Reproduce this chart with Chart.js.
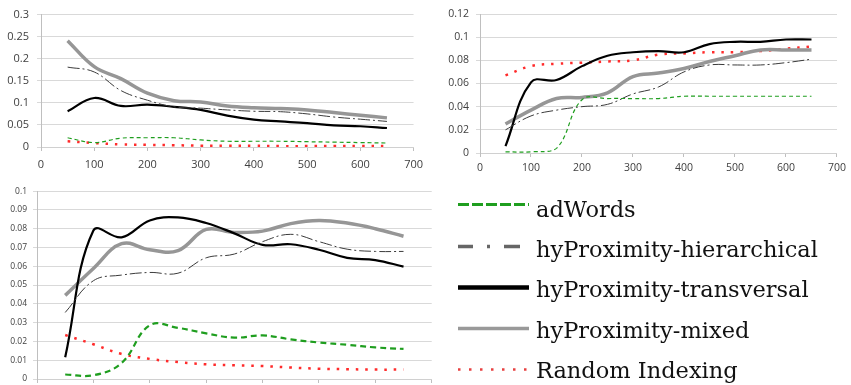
<!DOCTYPE html>
<html>
<head>
<meta charset="utf-8">
<script src="https://cdn.jsdelivr.net/npm/chart.js@4.4.1/dist/chart.umd.min.js"></script>
<style>
html,body{margin:0;padding:0;background:#fff;width:851px;height:385px;overflow:hidden;position:relative;}
canvas{position:absolute;}
#legend{position:absolute;left:430px;top:180px;}
</style>
</head>
<body>
<canvas id="c1" width="430" height="180" style="left:0;top:0;width:430px;height:180px"></canvas>
<canvas id="c2" width="421" height="190" style="left:430px;top:0;width:421px;height:190px"></canvas>
<canvas id="c3" width="445" height="240" style="left:0;top:180px;width:445px;height:240px"></canvas>
<svg id="legend" width="421" height="205" xmlns="http://www.w3.org/2000/svg"></svg>
<script>
// ---- data ----
const xValues = [50,100,150,200,250,300,350,400,450,500,550,600,650];
const seriesNames = ["adWords","hyProximity-hierarchical","hyProximity-transversal","hyProximity-mixed","Random Indexing"];
const xTicks = [0,100,200,300,400,500,600,700];

// top-left panel
const c1AdWords = [0.021,0.010,0.020,0.021,0.021,0.016,0.013,0.013,0.013,0.012,0.011,0.010,0.009];
const c1Hier    = [0.181,0.170,0.128,0.106,0.091,0.088,0.084,0.081,0.080,0.075,0.068,0.063,0.058];
const c1Trans   = [0.081,0.111,0.093,0.096,0.091,0.084,0.071,0.062,0.058,0.054,0.049,0.047,0.043];
const c1Mixed   = [0.241,0.182,0.155,0.122,0.105,0.102,0.093,0.089,0.087,0.084,0.078,0.072,0.066];
const c1Random  = [0.013,0.009,0.006,0.005,0.004,0.003,0.003,0.003,0.002,0.002,0.002,0.002,0.002];

// top-right panel
const c2AdWords = [0.001,0.001,0.004,0.046,0.047,0.047,0.047,0.049,0.049,0.049,0.049,0.049,0.049];
const c2Hier    = [0.020,0.032,0.037,0.040,0.042,0.051,0.057,0.070,0.076,0.076,0.076,0.078,0.081];
const c2Trans   = [0.006,0.061,0.063,0.075,0.084,0.087,0.088,0.087,0.094,0.096,0.096,0.098,0.098];
const c2Mixed   = [0.025,0.037,0.047,0.048,0.052,0.066,0.069,0.073,0.079,0.084,0.089,0.089,0.089];
const c2Random  = [0.067,0.075,0.077,0.078,0.079,0.080,0.085,0.086,0.087,0.087,0.088,0.090,0.092];

// bottom-left panel
const c3AdWords = [0.0024,0.0020,0.0085,0.0286,0.0272,0.0243,0.0220,0.0232,0.0211,0.0194,0.0182,0.0168,0.0160];
const c3Hier    = [0.0354,0.0523,0.0553,0.0567,0.0563,0.0645,0.0665,0.0731,0.0770,0.0731,0.0691,0.0679,0.0679];
const c3Trans   = [0.0116,0.0790,0.0754,0.0844,0.0860,0.0830,0.0775,0.0714,0.0717,0.0688,0.0645,0.0633,0.0598];
const c3Mixed   = [0.0445,0.0588,0.0720,0.0688,0.0683,0.0796,0.0780,0.0787,0.0827,0.0844,0.0830,0.0800,0.0760];
const c3Random  = [0.0234,0.0185,0.0133,0.0107,0.0090,0.0078,0.0073,0.0069,0.0061,0.0055,0.0052,0.0050,0.0050];

// ---- styles ----
const GREEN = '#1f9e1f', HIER = '#3a3a3a', BLACK = '#000000', GRAY = '#969696', RED = '#ff2b2b';

function pts(arr){ return arr.map((v,i)=>({x:xValues[i], y:v})); }
function fmt(v){ return String(Number(v.toFixed(3))); }

function makeChart(id, data, opt){
  const thick = opt.thickGreen;
  const datasets = [
    {label:seriesNames[0], data:pts(data[0]), borderColor:GREEN, borderWidth:thick?2.2:1.2, borderDash:thick?[6,4]:[4,3]},
    {label:seriesNames[1], data:pts(data[1]), borderColor:HIER, borderWidth:1, borderDash:[12,3,2,3]},
    {label:seriesNames[2], data:pts(data[2]), borderColor:BLACK, borderWidth:2.2},
    {label:seriesNames[3], data:pts(data[3]), borderColor:GRAY, borderWidth:3.5},
    {label:seriesNames[4], data:pts(data[4]), borderColor:RED, borderWidth:2.5, borderDash:[2.5,7]}
  ];
  return new Chart(document.getElementById(id), {
    type:'line',
    data:{datasets},
    options:{
      responsive:false, animation:false,
      layout:{padding:opt.padding},
      elements:{point:{radius:0}, line:{tension:0.4, fill:false}},
      plugins:{legend:{display:false}, tooltip:{enabled:false}},
      scales:{
        x:{type:'linear', min:0, max:700,
           afterBuildTicks:s=>{s.ticks = xTicks.map(v=>({value:v}));},
           afterFit:s=>{s.height = opt.xH;},
           grid:{drawOnChartArea:false, drawTicks:true, tickLength:4, color:'#bfbfbf'},
           border:{color:'#d0d0d0'},
           ticks:{font:{family:'Open Sans', size:opt.fs}, color:'#404040', padding:opt.xPad, maxRotation:0}},
        y:{min:0, max:opt.max,
           afterBuildTicks:s=>{s.ticks = opt.yTicks.map(v=>({value:v}));},
           afterFit:s=>{s.width = opt.yW;},
           grid:{color:'#d9d9d9', tickLength:4},
           border:{color:'#bfbfbf'},
           ticks:{font:{family:'Open Sans', size:opt.fs}, color:'#404040', padding:opt.yPad, callback:v=>fmt(v)}}
      }
    }
  });
}

const y1Ticks = [0,0.05,0.1,0.15,0.2,0.25,0.3];
const y2Ticks = [0,0.02,0.04,0.06,0.08,0.1,0.12];
const y3Ticks = [0,0.01,0.02,0.03,0.04,0.05,0.06,0.07,0.08,0.09,0.1];

makeChart('c1', [c1AdWords,c1Hier,c1Trans,c1Mixed,c1Random],
  {padding:{left:0,top:13,right:14,bottom:0}, xH:33, yW:41, max:0.3, yTicks:y1Ticks, fs:11, xPad:7, yPad:8, thickGreen:false});
makeChart('c2', [c2AdWords,c2Hier,c2Trans,c2Mixed,c2Random],
  {padding:{left:0,top:14,right:12,bottom:0}, xH:37, yW:50, max:0.12, yTicks:y2Ticks, fs:10.5, xPad:5, yPad:7, thickGreen:false});
makeChart('c3', [c3AdWords,c3Hier,c3Trans,c3Mixed,c3Random],
  {padding:{left:0,top:7,right:13,bottom:0}, xH:41, yW:37, max:0.1, yTicks:y3Ticks, fs:8.5, xPad:6, yPad:6, thickGreen:true});

// ---- legend (SVG, coordinates relative to legend box at 430,180) ----
const legendRows = [
  {name:seriesNames[0], color:GREEN, width:3, dash:'11 3', lineY:24.5, textY:36.5},
  {name:seriesNames[1], color:'#666666', width:3.5, dash:'15 14 3 14 16', lineY:66.5, textY:77},
  {name:seriesNames[2], color:BLACK, width:4.5, dash:'', lineY:107.5, textY:117},
  {name:seriesNames[3], color:'#999999', width:3.5, dash:'', lineY:148.5, textY:157.5},
  {name:seriesNames[4], color:'#e84040', width:2.5, dash:'2.5 8.5', lineY:189.5, textY:197.5}
];
const svg = document.getElementById('legend');
const NS = 'http://www.w3.org/2000/svg';
legendRows.forEach(r=>{
  const l = document.createElementNS(NS,'line');
  l.setAttribute('x1',28); l.setAttribute('x2',99);
  l.setAttribute('y1',r.lineY); l.setAttribute('y2',r.lineY);
  l.setAttribute('stroke',r.color); l.setAttribute('stroke-width',r.width);
  if(r.dash) l.setAttribute('stroke-dasharray',r.dash);
  svg.appendChild(l);
  const t = document.createElementNS(NS,'text');
  t.setAttribute('x',106); t.setAttribute('y',r.textY);
  t.setAttribute('font-family','DejaVu Serif'); t.setAttribute('font-size','22.5');
  t.setAttribute('fill','#111');
  t.textContent = r.name;
  svg.appendChild(t);
});
</script>
</body>
</html>
